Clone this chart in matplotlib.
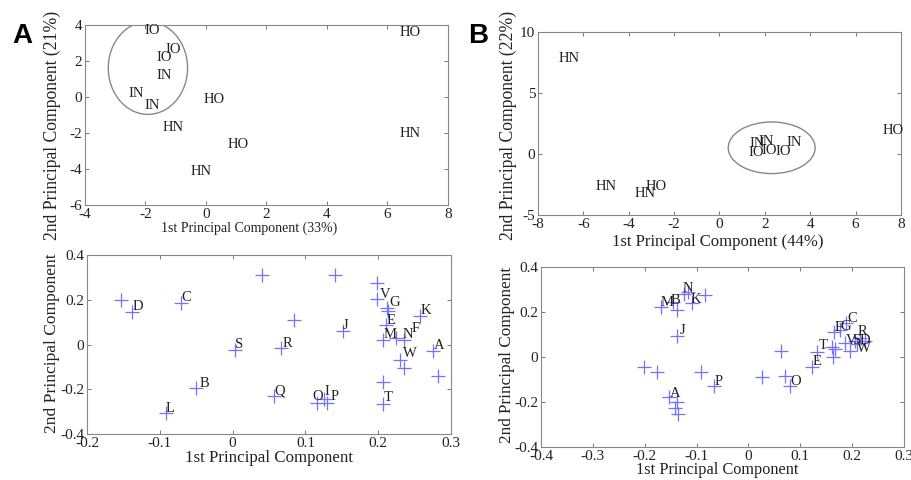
import matplotlib
matplotlib.use("Agg")
import matplotlib.pyplot as plt
from matplotlib.patches import Ellipse

plt.rcParams['font.family'] = ['Liberation Serif', 'DejaVu Serif']
plt.rcParams['axes.unicode_minus'] = False

# panel A, top: group scores
a_top_names = ["IO", "IO", "IO", "IN", "IN", "IN", "HO", "HN", "HO", "HN", "HO", "HN"]
a_top_x = [-2.05, -1.33, -1.65, -1.63, -2.57, -2.05, -0.09, -1.44, 0.70, -0.50, 6.41, 6.41]
a_top_y = [3.72, 2.66, 2.20, 1.17, 0.20, -0.50, -0.13, -1.71, -2.64, -4.13, 3.59, -2.05]

# panel B, top: group scores
b_top_names = ["HN", "HN", "HN", "HO", "HO", "IN", "IN", "IN", "IO", "IO", "IO"]
b_top_x = [-7.09, -5.45, -3.73, -3.25, 7.19, 1.32, 1.71, 2.97, 1.27, 1.86, 2.45]
b_top_y = [7.81, -2.70, -3.20, -2.70, 1.89, 0.90, 1.05, 0.95, 0.12, 0.25, 0.20]

# panel A, bottom: loadings (markers) and labelled ones
a_bot_px = [-0.153, -0.138, -0.071, 0.041, 0.140, 0.084, 0.003, 0.067, 0.152, 0.199,
            0.199, 0.212, 0.211, 0.206, 0.235, 0.258, 0.275, 0.230, 0.236, 0.206,
            0.282, 0.206, -0.050, -0.092, 0.057, 0.116, 0.129, 0.125, 0.225, 0.214]
a_bot_py = [0.199, 0.147, 0.187, 0.312, 0.312, 0.110, -0.024, -0.016, 0.062, 0.274,
            0.202, 0.162, 0.088, 0.021, 0.021, 0.128, -0.027, -0.068, -0.103, -0.168,
            -0.143, -0.266, -0.195, -0.306, -0.228, -0.262, -0.262, -0.245, 0.030, 0.150]
a_bot_labels = ["D", "C", "S", "R", "J", "V", "G", "K", "E", "M", "N",
                "F", "A", "W", "T", "B", "L", "Q", "O", "I", "P"]
a_bot_lx = [-0.137, -0.070, 0.003, 0.069, 0.151, 0.202, 0.216, 0.258, 0.212, 0.207, 0.233,
            0.246, 0.276, 0.234, 0.207, -0.046, -0.092, 0.058, 0.110, 0.126, 0.134]
a_bot_ly = [0.170, 0.211, 0.000, 0.006, 0.083, 0.222, 0.187, 0.150, 0.106, 0.043, 0.043,
            0.070, -0.004, -0.042, -0.239, -0.175, -0.288, -0.210, -0.232, -0.210, -0.232]

# panel B, bottom
b_bot_px = [-0.169, -0.1445, -0.138, -0.125, -0.116, -0.109, -0.083, -0.138, -0.201, -0.177,
            -0.091, -0.067, -0.154, -0.137, -0.141, -0.135, 0.027, 0.062, 0.071, 0.080,
            0.122, 0.132, 0.161, 0.165, 0.177, 0.164, 0.186, 0.196, 0.167, 0.189,
            0.206, 0.215, 0.225, 0.210]
b_bot_py = [0.223, 0.245, 0.211, 0.282, 0.289, 0.238, 0.277, 0.093, -0.043, -0.065,
            -0.065, -0.128, -0.176, -0.198, -0.227, -0.252, -0.087, 0.028, -0.084, -0.127,
            -0.046, 0.024, 0.046, 0.112, 0.120, 0.001, 0.063, 0.028, 0.037, 0.149,
            0.072, 0.083, 0.072, 0.060]
b_bot_labels = ["M", "B", "N", "K", "J", "P", "A", "O", "E", "T", "F", "G", "C",
                "R", "V", "S", "D", "W"]
b_bot_lx = [-0.169, -0.150, -0.127, -0.112, -0.133, -0.066, -0.152, 0.080, 0.124, 0.136,
            0.166, 0.177, 0.191, 0.210, 0.188, 0.201, 0.214, 0.210]
b_bot_ly = [0.241, 0.252, 0.304, 0.255, 0.120, -0.109, -0.164, -0.109, -0.021, 0.049,
            0.131, 0.134, 0.171, 0.112, 0.075, 0.075, 0.075, 0.038]

W, H = 912, 480
fig = plt.figure(figsize=(W / 100, H / 100), dpi=100)


def make_axes(left, top, right, bottom):
    return fig.add_axes([left / W, 1 - bottom / H, (right - left) / W, (bottom - top) / H])


def style(ax, xlim, ylim, xticks, yticks):
    ax.set_xlim(xlim)
    ax.set_ylim(ylim)
    ax.set_xticks(xticks)
    ax.set_yticks(yticks)
    ax.set_xticklabels([f"{v:g}" for v in xticks])
    ax.set_yticklabels([f"{v:g}" for v in yticks])
    ax.tick_params(direction='in', length=3, width=0.7, top=True, right=True,
                   labelsize=11, colors='#777777', labelcolor='#222222', pad=2)
    for s in ax.spines.values():
        s.set_color('#888888')
        s.set_linewidth(0.8)


def labels(ax, xlab, ylab, xpos, ypos, xsize, ysize):
    ax.text(xpos[0], xpos[1], xlab, transform=ax.transAxes, ha='center', va='center',
            fontsize=xsize, color='#222222')
    ax.text(ypos[0], ypos[1], ylab, transform=ax.transAxes, ha='center', va='center',
            rotation=90, fontsize=ysize, color='#222222')


marker_col = (0.45, 0.45, 1.0)

# A top
ax1 = make_axes(85, 25, 448, 205)
style(ax1, (-4, 8), (-6, 4), [-4, -2, 0, 2, 4, 6, 8], [-6, -4, -2, 0, 2, 4])
for n, x, y in zip(a_top_names, a_top_x, a_top_y):
    ax1.text(x, y, n, ha='left', va='center', fontsize=10.5, color='#222222')
ax1.add_patch(Ellipse((-1.92, 1.61), 2.62, 5.15, fill=False, edgecolor='#888888', lw=1))
labels(ax1, "1st Principal Component (33%)", "2nd Principal Component (21%)",
       ((249 - 85) / 363, -(228 - 205) / 180), (-(85 - 52) / 363, 1 - (125 - 25) / 180), 10, 12.7)

# B top
ax2 = make_axes(538, 32, 901, 215)
style(ax2, (-8, 8), (-5, 10), [-8, -6, -4, -2, 0, 2, 4, 6, 8], [-5, 0, 5, 10])
for n, x, y in zip(b_top_names, b_top_x, b_top_y):
    ax2.text(x, y, n, ha='left', va='center', fontsize=10.5, color='#222222')
ax2.add_patch(Ellipse((2.30, 0.51), 3.83, 4.23, fill=False, edgecolor='#888888', lw=1))
labels(ax2, "1st Principal Component (44%)", "2nd Principal Component (22%)",
       ((718 - 538) / 363, -(242 - 215) / 183), (-(538 - 508) / 363, 1 - (125 - 32) / 183), 12, 12.7)

# A bottom
ax3 = make_axes(87, 255, 451, 434)
style(ax3, (-0.2, 0.3), (-0.4, 0.4), [-0.2, -0.1, 0, 0.1, 0.2, 0.3], [-0.4, -0.2, 0, 0.2, 0.4])
ax3.plot(a_bot_px, a_bot_py, '+', color=marker_col, markersize=10, mew=0.9)
for n, x, y in zip(a_bot_labels, a_bot_lx, a_bot_ly):
    ax3.text(x, y, n, ha='left', va='center', fontsize=10.5, color='#222222')
labels(ax3, "1st Principal Component", "2nd Principal Component",
       ((269 - 87) / 364, -(458 - 434) / 179), (-(87 - 52) / 364, 1 - (343 - 255) / 179), 12.2, 12.6)

# B bottom
ax4 = make_axes(541, 267, 904, 447)
style(ax4, (-0.4, 0.3), (-0.4, 0.4), [-0.4, -0.3, -0.2, -0.1, 0, 0.1, 0.2, 0.3],
      [-0.4, -0.2, 0, 0.2, 0.4])
ax4.plot(b_bot_px, b_bot_py, '+', color=marker_col, markersize=10, mew=0.9)
for n, x, y in zip(b_bot_labels, b_bot_lx, b_bot_ly):
    ax4.text(x, y, n, ha='left', va='center', fontsize=10.5, color='#222222')
labels(ax4, "1st Principal Component", "2nd Principal Component",
       ((717 - 541) / 363, -(470 - 447) / 180), (-(541 - 507) / 363, 1 - (355 - 267) / 180), 11.7, 12.3)

fig.text(22 / W, 1 - 36 / H, "A", fontsize=20, fontweight='bold', family='Liberation Sans',
         ha='center', va='center')
fig.text(478 / W, 1 - 36 / H, "B", fontsize=20, fontweight='bold', family='Liberation Sans',
         ha='center', va='center')

fig.savefig("out.png", dpi=100)
